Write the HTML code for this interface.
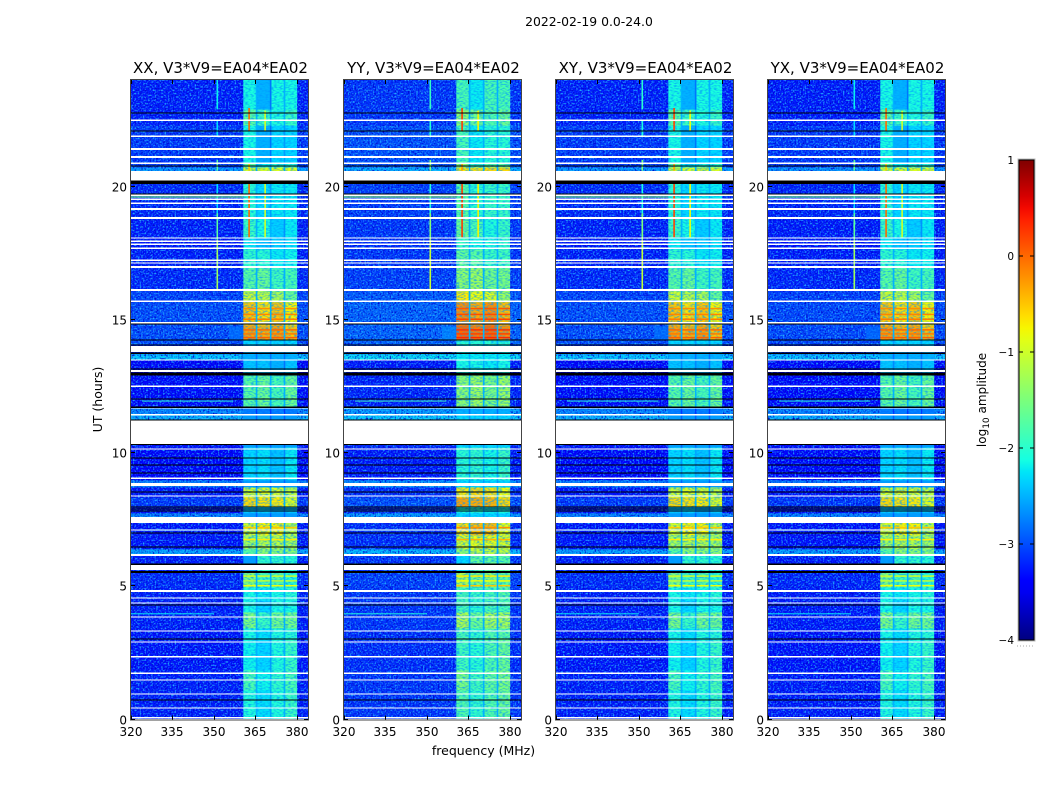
<!DOCTYPE html>
<html>
<head>
<meta charset="utf-8">
<title>2022-02-19 0.0-24.0</title>
<style>
html,body{margin:0;padding:0;background:#fff;}
svg{display:block;}
text{font-family:"DejaVu Sans","Liberation Sans",sans-serif;fill:#000;}
</style>
</head>
<body>
<svg id="figure" width="1050" height="800" viewBox="0 0 1050 800" xmlns="http://www.w3.org/2000/svg">
  <defs>
    <filter id="darkNoise" x="0" y="0" width="100%" height="100%">
      <feTurbulence type="fractalNoise" baseFrequency="0.6" numOctaves="1" seed="4"/>
      <feColorMatrix type="matrix" values="0 0 0 0 0  0 0 0 0 0  0 0 0 0 0.6  3 0 0 0 -1.35"/>
    </filter>
    <filter id="lightNoise" x="0" y="0" width="100%" height="100%">
      <feTurbulence type="fractalNoise" baseFrequency="0.6" numOctaves="1" seed="11"/>
      <feColorMatrix type="matrix" values="0 0 0 0 0.02  0 0 0 0 0.5  0 0 0 0 1  3 0 0 0 -1.45"/>
    </filter>
    <filter id="bandNoise" x="0" y="0" width="100%" height="100%">
      <feTurbulence type="fractalNoise" baseFrequency="0.35 0.7" numOctaves="1" seed="7"/>
      <feColorMatrix type="matrix" values="0 0 0 0 0  0 0 0 0 0.3  0 0 0 0 1  3.2 0 0 0 -1.35"/>
    </filter>
    <linearGradient id="jetGradient" x1="0" y1="1" x2="0" y2="0"></linearGradient>
  </defs>
  <text x="589" y="26" font-size="12.4" text-anchor="middle">2022-02-19 0.0-24.0</text>
  <text x="483.500" y="755" font-size="12.500" text-anchor="middle">frequency (MHz)</text>
  <text transform="translate(102,399.500) rotate(-90)" font-size="12.500" text-anchor="middle">UT (hours)</text>
  <g id="panels"></g>
  <g id="colorbar"></g>
</svg>
<script>
// ---- Panels ----
const panelNames = ["XX", "YY", "XY", "YX"];
const panelBaseline = "V3*V9=EA04*EA02";
const panelBgShift = [0, 0.12, 0, -0.02];
const panelBandShift = [0, 0.3, 0, 0];
const panelLineShift = [0, 0.25, 0.2, 0];

// ---- Axis ticks ----
const freqTicks = [320, 335, 350, 365, 380];
const hourTicks = [0, 5, 10, 15, 20];
const colorTicks = [1, 0, -1, -2, -3, -4];

// ---- Frequency columns (MHz) ----
const colStart = [320, 360.6, 365.1, 365.7, 370.2, 370.8, 375.2, 375.8, 380.1];
const colEnd = [360.6, 365.1, 365.7, 370.2, 370.8, 375.2, 375.8, 380.1, 384];
const colSeries = ["bg", "b1", "gap", "b2", "gap", "b3", "gap", "b4", "bg"];
const gapLevel = -2.5;

// ---- Time segments (start hour, log10 amplitude per spectral region) ----
const rowStart = [0, 1.11, 1.86, 2.98, 3.43, 4.03, 4.48, 4.97, 5.53, 6.17, 6.4, 6.92, 7.6, 7.75, 7.97, 8.34, 8.72, 8.99, 10.22, 11.24, 11.43, 11.69, 12.93, 13.49, 13.72, 14.05, 14.24, 14.8, 15.67, 16.08, 16.94, 17.65, 18.07, 18.82, 20.58, 20.73, 20.88, 22.3, 22.9];
const rowBg = [-3.25, -3.25, -3.3, -3.3, -3.25, -3.25, -3.25, -3.2, -3.25, -2.55, -3.3, -3.3, -2.7, -3.3, -3.1, -3.3, -2.75, -3.4, -3.3, -2.45, -2.7, -3.35, -3.4, -2.35, -3.2, -3.0, -3.0, -3.0, -3.05, -3.2, -3.25, -3.3, -3.25, -3.2, -2.6, -3.1, -3.1, -3.25, -3.25];
const rowB1 = [-2.05, -1.8, -2.15, -2.1, -1.5, -2.1, -2.1, -1.5, -2.6, -1.7, -1.25, -0.95, -2.6, -2.4, -0.6, -1.0, -2.6, -2.3, -2.6, -2.6, -2.8, -1.7, -2.4, -2.5, -2.5, -2.3, -0.3, -0.5, -1.0, -1.7, -1.95, -2.2, -1.9, -2.0, -1.0, -1.7, -2.1, -1.7, -2.1];
const rowB2 = [-2.25, -2.15, -2.3, -2.25, -1.9, -2.3, -2.2, -1.85, -1.95, -1.4, -1.15, -0.75, -2.6, -2.35, -0.65, -0.9, -2.6, -2.25, -2.6, -2.6, -2.8, -1.6, -2.4, -2.5, -2.5, -2.3, -0.4, -0.65, -1.1, -1.6, -2.0, -2.4, -2.1, -2.3, -0.95, -2.2, -2.5, -1.9, -2.5];
const rowB3 = [-2.05, -1.95, -2.05, -2.05, -1.55, -2.1, -2.1, -1.75, -1.95, -1.4, -1.15, -0.75, -2.6, -2.5, -0.7, -0.95, -2.6, -2.4, -2.6, -2.6, -2.8, -1.8, -2.5, -2.5, -2.5, -2.3, -0.3, -0.5, -1.2, -1.85, -2.2, -2.35, -2.35, -2.2, -0.9, -2.0, -2.3, -2.05, -2.1];
const rowB4 = [-1.9, -1.8, -1.9, -2.0, -1.55, -2.1, -2.0, -2.0, -2.0, -1.4, -1.25, -1.15, -2.6, -2.4, -0.9, -1.1, -2.6, -2.2, -2.6, -2.6, -2.8, -1.6, -2.4, -2.5, -2.5, -2.3, -0.5, -0.75, -1.6, -1.8, -2.15, -2.25, -2.2, -2.2, -0.9, -2.0, -2.3, -1.9, -2.1];
const rowSeries = { bg: rowBg, b1: rowB1, b2: rowB2, b3: rowB3, b4: rowB4 };

// ---- Short horizontal stripes inside the band ----
const stripeHour = [14.33, 14.47, 14.62, 15.02, 15.2, 15.42, 6.75, 7.2, 5.02, 5.2, 5.38];
const stripeLevel = [0.05, -0.1, 0.0, -0.1, -0.15, -0.2, -0.7, -0.5, -0.8, -1.1, -1.0];

// ---- Narrow spectral lines ----
const lineFreq = [351.2, 351.2, 351.2, 351.2, 351.2, 351.2, 362.7, 362.7, 362.7, 368.5, 368.5];
const lineHourFrom = [22.9, 21.85, 20.6, 19.0, 18.0, 16.15, 22.1, 20.6, 18.1, 22.1, 18.1];
const lineHourTo = [24, 22.5, 21.0, 20.1, 19.0, 18.0, 22.95, 20.9, 20.1, 22.85, 20.1];
const lineLevel = [-2.2, -2.3, -1.7, -2.3, -1.7, -1.3, 0.0, -0.5, 0.0, -1.0, -1.0];

// ---- Horizontal interference streaks ----
const streakHour = [19.61, 11.95, 3.97, 7.11, 14.5];
const streakThick = [0.06, 0.05, 0.05, 0.05, 0.5];
const streakFrom = [320, 324, 320, 323, 355.5];
const streakTo = [360.6, 357, 350, 351, 360.6];
const streakLevel = [-1.5, -2.0, -2.2, -2.3, -2.8];

// ---- Flagged (white) intervals, hours ----
const gapCentre = [0.075, 0.02, 0.43, 0.96, 1.48, 1.74, 2.35, 2.91, 3.32, 3.85, 4.37, 4.56, 4.82, 6.17, 7.11, 8.39, 9.06, 10.15, 11.43, 11.69, 12.51, 13.08, 13.49, 14.88, 15.7, 16.12, 16.98, 17.13, 17.24, 17.69, 17.84, 17.95, 18.07, 18.82, 19.16, 19.38, 19.53, 19.68, 20.88, 21.11, 21.41, 21.89, 22.49];
const gapSpan = [0.03, 0.03, 0.05, 0.05, 0.05, 0.05, 0.05, 0.05, 0.05, 0.05, 0.05, 0.05, 0.07, 0.07, 0.05, 0.05, 0.06, 0.05, 0.06, 0.05, 0.06, 0.06, 0.05, 0.06, 0.06, 0.08, 0.08, 0.05, 0.05, 0.05, 0.05, 0.05, 0.05, 0.06, 0.06, 0.05, 0.05, 0.05, 0.05, 0.06, 0.06, 0.06, 0.06];
const blockFrom = [5.61, 7.37, 8.76, 10.34, 13.79, 20.2];
const blockTo = [5.8, 7.6, 8.87, 11.24, 14.02, 20.58];

// ---- Zero-amplitude (black) intervals, hours ----
const darkCentre = [0.73, 3.02, 4.3, 5.53, 5.83, 6.47, 7.0, 7.82, 7.9, 7.97, 8.54, 9.25, 9.55, 9.81, 10.32, 11.24, 12.03, 11.72, 12.96, 13.15, 13.75, 14.05, 14.24, 14.84, 19.72, 20.13, 20.2, 20.77, 22.08, 22.76];
const darkSpan = [0.04, 0.04, 0.03, 0.07, 0.06, 0.04, 0.04, 0.03, 0.03, 0.04, 0.04, 0.04, 0.04, 0.04, 0.04, 0.04, 0.04, 0.04, 0.11, 0.04, 0.05, 0.04, 0.04, 0.03, 0.04, 0.07, 0.05, 0.04, 0.04, 0.04];

// ---- Geometry & scales ----
const svgNS = "http://www.w3.org/2000/svg";
const panelLeft = [131, 344, 556, 768];
const plotWidth = 177, plotTop = 80, plotBottom = 719.5;
const freqMin = 320, freqMax = 384, hourMin = 0, hourMax = 24;
const levelMin = -4, levelMax = 1;
const barX = 1019, barW = 15, barTop = 160, barBottom = 640;

function xScale(f, left) { return left + (f - freqMin) / (freqMax - freqMin) * plotWidth; }
function yScale(h) { return plotBottom - (h - hourMin) / (hourMax - hourMin) * (plotBottom - plotTop); }
function barScale(v) { return barBottom - (v - levelMin) / (levelMax - levelMin) * (barBottom - barTop); }

function clamp(v) { return Math.max(0, Math.min(1, v)); }
function jet(t) {
  const interp = (pts) => {
    for (let i = 1; i < pts.length; i++) {
      if (t <= pts[i][0]) {
        const a = pts[i - 1], b = pts[i];
        return a[1] + (b[1] - a[1]) * (t - a[0]) / (b[0] - a[0]);
      }
    }
    return pts[pts.length - 1][1];
  };
  const r = interp([[0, 0], [0.35, 0], [0.66, 1], [0.89, 1], [1, 0.5]]);
  const g = interp([[0, 0], [0.125, 0], [0.375, 1], [0.64, 1], [0.91, 0], [1, 0]]);
  const b = interp([[0, 0.5], [0.11, 1], [0.34, 1], [0.65, 0], [1, 0]]);
  return "rgb(" + Math.round(r * 255) + "," + Math.round(g * 255) + "," + Math.round(b * 255) + ")";
}
function colour(level) { return jet(clamp((level - levelMin) / (levelMax - levelMin))); }

function make(tag, attrs, parent) {
  const el = document.createElementNS(svgNS, tag);
  for (const k in attrs) el.setAttribute(k, attrs[k]);
  parent.appendChild(el);
  return el;
}

const panelsRoot = document.getElementById("panels");

panelNames.forEach(function (name, p) {
  const left = panelLeft[p];
  const top = plotTop, height = plotBottom - plotTop;
  const g = make("g", {}, panelsRoot);
  
  

  const clipId = "clip" + p;
  const clip = make("clipPath", { id: clipId }, g);
  make("rect", { x: left, y: top, width: plotWidth, height: height }, clip);
  const body = make("g", { "clip-path": "url(#" + clipId + ")" }, g);

  // heatmap cells
  rowStart.forEach(function (start, r) {
    const end = r + 1 < rowStart.length ? rowStart[r + 1] : hourMax;
    colStart.forEach(function (fs, c) {
      const key = colSeries[c];
      let level;
      if (key === "bg") {
        level = rowBg[r] + panelBgShift[p];
      } else if (key === "gap") {
        const neighbour = rowSeries[colSeries[c - 1]][r] + panelBandShift[p];
        level = Math.min(neighbour - 0.3, gapLevel);
      } else {
        level = rowSeries[key][r] + panelBandShift[p];
      }
      const x0 = xScale(fs, left), x1 = xScale(colEnd[c], left);
      const y0 = yScale(end), y1 = yScale(start);
      const cell = make("rect", { x: x0.toFixed(2), y: y0.toFixed(2), width: (x1 - x0 + 0.3).toFixed(2), height: (y1 - y0 + 0.3).toFixed(2), fill: colour(level) }, body);
      
      
    });
  });

  // speckle texture: background regions get blue speckle, band regions get striation
  colStart.forEach(function (fs, c) {
    const x0 = xScale(fs, left), x1 = xScale(colEnd[c], left);
    if (colSeries[c] === "bg") {
      const dark = make("rect", { x: x0.toFixed(2), y: top, width: (x1 - x0).toFixed(2), height: height, filter: "url(#darkNoise)" }, body);
      
      
      const light = make("rect", { x: x0.toFixed(2), y: top, width: (x1 - x0).toFixed(2), height: height, filter: "url(#lightNoise)" }, body);
      
      
    } else if (colSeries[c] !== "gap") {
      const band = make("rect", { x: x0.toFixed(2), y: top, width: (x1 - x0).toFixed(2), height: height, filter: "url(#bandNoise)", opacity: 0.7 }, body);
      
      
    }
  });

  // short horizontal stripes inside the band
  stripeHour.forEach(function (h, i) {
    colStart.forEach(function (fs, c) {
      if (colSeries[c] === "bg" || colSeries[c] === "gap") return;
      const x0 = xScale(fs, left), x1 = xScale(colEnd[c], left);
      const stripe = make("rect", { x: x0.toFixed(2), y: yScale(h + 0.03).toFixed(2), width: (x1 - x0).toFixed(2), height: 1.5, fill: colour(stripeLevel[i] + panelBandShift[p]) }, body);
      
      
    });
  });

  // narrow spectral lines
  lineFreq.forEach(function (f, i) {
    const y0 = yScale(lineHourTo[i]), y1 = yScale(lineHourFrom[i]);
    const line = make("rect", { x: (xScale(f, left) - 0.8).toFixed(2), y: y0.toFixed(2), width: 1.6, height: (y1 - y0).toFixed(2), fill: colour(lineLevel[i] + panelLineShift[p]) }, body);
    
    
  });

  // horizontal streaks
  streakHour.forEach(function (h, i) {
    const x0 = xScale(streakFrom[i], left), x1 = xScale(streakTo[i], left);
    const y0 = yScale(h + streakThick[i] / 2), y1 = yScale(h - streakThick[i] / 2);
    const streak = make("rect", { x: x0.toFixed(2), y: y0.toFixed(2), width: (x1 - x0).toFixed(2), height: (y1 - y0).toFixed(2), fill: colour(streakLevel[i] + panelBgShift[p]), opacity: 0.7 }, body);
    
    
  });

  // flagged intervals
  gapCentre.forEach(function (h, i) {
    const y0 = yScale(h + gapSpan[i] / 2), y1 = yScale(h - gapSpan[i] / 2);
    const gap = make("rect", { x: left, y: y0.toFixed(2), width: plotWidth, height: (y1 - y0).toFixed(2), fill: "#fff", "shape-rendering": "crispEdges" }, body);
    
    
  });
  blockFrom.forEach(function (h, i) {
    const y0 = yScale(blockTo[i]), y1 = yScale(h);
    const block = make("rect", { x: left, y: y0.toFixed(2), width: plotWidth, height: (y1 - y0).toFixed(2), fill: "#fff", "shape-rendering": "crispEdges" }, body);
    
    
  });
  darkCentre.forEach(function (h, i) {
    const y0 = yScale(h + darkSpan[i] / 2), y1 = yScale(h - darkSpan[i] / 2);
    const darkLine = make("rect", { x: left, y: y0.toFixed(2), width: plotWidth, height: (y1 - y0).toFixed(2), fill: "#000", "shape-rendering": "crispEdges" }, body);
    
    
  });

  // frame
  const frame = make("rect", { x: left - 0.5, y: top - 0.5, width: plotWidth + 1, height: height + 1, fill: "none", stroke: "#444", "stroke-width": 1 }, g);
  
  

  // x ticks
  freqTicks.forEach(function (f) {
    const x = Math.round(xScale(f, left)) + 0.5;
    const t1 = make("line", { x1: x, x2: x, y1: plotBottom, y2: plotBottom - 4, stroke: "#000", "stroke-width": 1 }, g);
    
    
    const t2 = make("line", { x1: x, x2: x, y1: top, y2: top + 4, stroke: "#000", "stroke-width": 1 }, g);
    
    
    const label = make("text", { x: x - 0.5, y: 736, "font-size": 12, "text-anchor": "middle" }, g);
    
    
    label.textContent = f;
  });

  // y ticks
  hourTicks.forEach(function (h) {
    const y = Math.round(yScale(h)) - 0.5;
    const t1 = make("line", { x1: left, x2: left + 4, y1: y, y2: y, stroke: "#000", "stroke-width": 1 }, g);
    
    
    const t2 = make("line", { x1: left + plotWidth, x2: left + plotWidth - 4, y1: y, y2: y, stroke: "#000", "stroke-width": 1 }, g);
    
    
    const label = make("text", { x: left - 4, y: y + 5, "font-size": 12, "text-anchor": "end" }, g);
    
    
    label.textContent = h;
  });

  // title
  const title = make("text", { x: left + plotWidth / 2 + 1, y: 73, "font-size": 15, "text-anchor": "middle" }, g);
  
  
  title.textContent = name + ", " + panelBaseline;
});

// ---- Colorbar ----
const grad = document.getElementById("jetGradient");
for (let i = 0; i <= 40; i++) {
  make("stop", { offset: (i / 40).toFixed(3), "stop-color": jet(i / 40) }, grad);
}
const barRoot = document.getElementById("colorbar");
const barRect = make("rect", { x: barX, y: barTop, width: barW, height: barBottom - barTop, fill: "url(#jetGradient)", stroke: "#000", "stroke-width": 1 }, barRoot);


const barHalo = make("rect", { x: barX - 1, y: barTop - 1, width: barW + 2, height: barBottom - barTop + 2, fill: "none", stroke: "#bbb", "stroke-width": 1 }, barRoot);



colorTicks.forEach(function (v) {
  const y = barScale(v);
  const t1 = make("line", { x1: barX, x2: barX + 4, y1: y, y2: y, stroke: "#000", "stroke-width": 1 }, barRoot);
  
  
  const t2 = make("line", { x1: barX + barW - 4, x2: barX + barW, y1: y, y2: y, stroke: "#000", "stroke-width": 1 }, barRoot);
  
  
  const label = make("text", { x: barX - 5, y: y + 4, "font-size": 10.5, "text-anchor": "end" }, barRoot);
  
  
  label.textContent = v < 0 ? "\u2212" + Math.abs(v) : String(v);
});

const barLabel = make("text", { transform: "translate(986,400) rotate(-90)", "font-size": 12, "text-anchor": "middle" }, barRoot);


const t1 = make("tspan", {}, barLabel);
t1.textContent = "log";
const t2 = make("tspan", { dy: 3, "font-size": 9 }, barLabel);
t2.textContent = "10";
const t3 = make("tspan", { dy: -3 }, barLabel);
t3.textContent = " amplitude";

const dots = make("line", { x1: barX - 2, x2: barX + barW, y1: 646, y2: 646, stroke: "#aaa", "stroke-width": 1, "stroke-dasharray": "1 2" }, barRoot);


</script>
</body>
</html>
